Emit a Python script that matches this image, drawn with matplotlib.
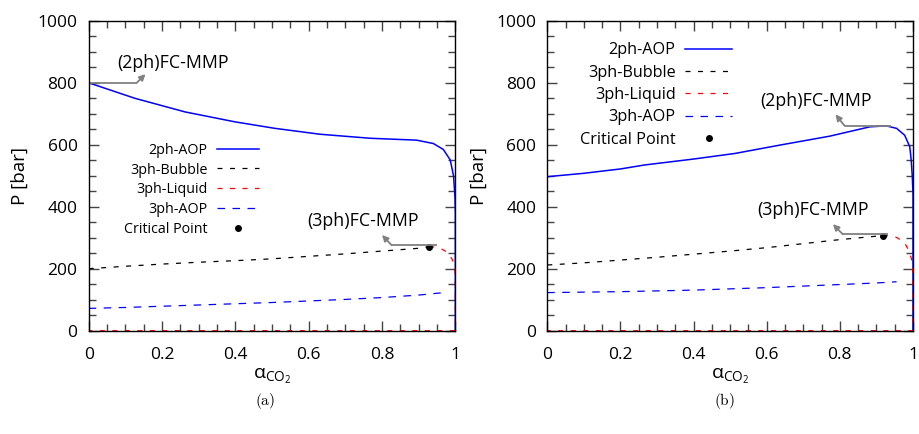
import matplotlib
matplotlib.use("Agg")
import matplotlib.pyplot as plt
from matplotlib.ticker import MultipleLocator

plt.rcParams['font.family'] = ['Open Sans', 'DejaVu Sans']

# ---- panel (a) ----
a_2ph_x = [0, 0.126, 0.263, 0.399, 0.508, 0.631, 0.768, 0.894, 0.94, 0.967, 0.986, 0.995, 0.999, 1.0, 1.0]
a_2ph_p = [800, 750, 706, 674, 653, 634, 621, 615, 604, 585, 551, 500, 430, 380, 0]
a_bub_x = [0, 0.1, 0.2, 0.3, 0.4, 0.5, 0.6, 0.7, 0.8, 0.9, 0.929]
a_bub_p = [200, 208, 215, 221, 226, 232, 240, 248, 257, 266, 271]
a_liq_x = [0.929, 0.945, 0.958, 0.97, 0.98, 0.99, 0.996, 0.999, 1.0, 1.0, 0.0]
a_liq_p = [271, 270, 266, 259, 249, 233, 218, 200, 150, 0, 0]
a_aop_x = [0, 0.1, 0.2, 0.3, 0.4, 0.5, 0.6, 0.7, 0.8, 0.9, 0.96]
a_aop_p = [72, 75, 79, 83, 87, 91, 96, 101, 107, 115, 122]
a_crit = (0.929, 271)

# ---- panel (b) ----
b_2ph_x = [0, 0.1, 0.2, 0.267, 0.4, 0.513, 0.636, 0.773, 0.882, 0.927, 0.955, 0.977, 0.991, 0.995, 0.998, 1.0, 1.0]
b_2ph_p = [497, 508, 522, 535, 554, 572, 599, 628, 658, 661, 653, 631, 594, 551, 497, 440, 0]
b_bub_x = [0, 0.1, 0.2, 0.3, 0.4, 0.5, 0.6, 0.7, 0.8, 0.9, 0.918]
b_bub_p = [212, 219, 228, 237, 247, 257, 268, 281, 294, 305, 307]
b_liq_x = [0.918, 0.94, 0.955, 0.97, 0.98, 0.99, 0.996, 0.999, 1.0, 1.0, 0.0]
b_liq_p = [307, 306, 301, 290, 277, 255, 230, 200, 150, 0, 0]
b_aop_x = [0, 0.2, 0.4, 0.6, 0.8, 0.9, 0.955]
b_aop_p = [123, 126, 131, 139, 149, 154, 158]
b_crit = (0.918, 307)

fig = plt.figure(figsize=(9.19, 4.34), dpi=100)
ax1 = fig.add_axes([0.0965, 0.238, 0.399, 0.714])
ax2 = fig.add_axes([0.5955, 0.238, 0.398, 0.714])

panels = [
    (ax1, a_2ph_x, a_2ph_p, a_bub_x, a_bub_p, a_liq_x, a_liq_p, a_aop_x, a_aop_p, a_crit),
    (ax2, b_2ph_x, b_2ph_p, b_bub_x, b_bub_p, b_liq_x, b_liq_p, b_aop_x, b_aop_p, b_crit),
]

for ax, x1, p1, x2, p2, x3, p3, x4, p4, cp in panels:
    ax.plot(x1, p1, color='#0000ff', lw=1.1, label='2ph-AOP')
    ax.plot(x2, p2, color='black', lw=0.9, dashes=(4, 6), label='3ph-Bubble')
    ax.plot(x3, p3, color='#ff0000', lw=0.9, dashes=(4, 6), label='3ph-Liquid')
    ax.plot(x4, p4, color='#0000ff', lw=0.9, dashes=(6, 6), label='3ph-AOP')
    ax.plot([cp[0]], [cp[1]], 'o', color='black', ms=4, ls='none', label='Critical Point')
    ax.set_xlim(0, 1)
    ax.set_ylim(0, 1000)
    ax.xaxis.set_major_locator(MultipleLocator(0.2))
    ax.xaxis.set_minor_locator(MultipleLocator(0.05))
    ax.yaxis.set_major_locator(MultipleLocator(200))
    ax.yaxis.set_minor_locator(MultipleLocator(50))
    ax.xaxis.set_major_formatter(plt.FuncFormatter(lambda v, pos: '%g' % round(v, 2)))
    ax.tick_params(which='both', direction='in', top=True, right=True, color='#444444',
                   width=1.0, labelsize=12.5)
    ax.tick_params(which='major', length=7.5, pad=8)
    ax.tick_params(axis='x', which='major', pad=12)
    ax.tick_params(which='minor', length=5)
    for s in ax.spines.values():
        s.set_linewidth(1.0)
    ax.set_xlabel(r'$\mathregular{\alpha_{CO_2}}$', fontsize=14, labelpad=2.5)
    ax.set_ylabel('P [bar]', fontsize=13.5, labelpad=6)

# legends
leg1 = ax1.legend(loc='upper left', bbox_to_anchor=(0.077, 0.63), frameon=False,
                  markerfirst=False, fontsize=10.3, handlelength=2.94, handletextpad=0.63,
                  labelspacing=0.34, borderpad=0, numpoints=1)
leg2 = ax2.legend(loc='upper left', bbox_to_anchor=(0.067, 0.957), frameon=False,
                  markerfirst=False, fontsize=11.7, handlelength=2.9, handletextpad=0.6,
                  labelspacing=0.39, borderpad=0, numpoints=1)

# annotations: (text position, start point, elbow point, arrow tip)
arrow_kw = dict(arrowstyle='-|>', color='#808080', lw=1.3, mutation_scale=9,
                shrinkA=0, shrinkB=0)
notes = [
    (ax1, '(2ph)FC-MMP', (0.077, 865), (0.0, 800), (0.131, 800), (0.155, 828)),
    (ax1, '(3ph)FC-MMP', (0.595, 354), (0.949, 276), (0.826, 276), (0.80, 309)),
    (ax2, '(2ph)FC-MMP', (0.581, 741), (0.941, 661), (0.813, 661), (0.788, 698)),
    (ax2, '(3ph)FC-MMP', (0.575, 389), (0.932, 311), (0.808, 311), (0.781, 344)),
]
for ax, txt, tpos, start, elbow, tip in notes:
    ax.plot([start[0], elbow[0]], [start[1], elbow[1]], color='#808080', lw=1.3,
            solid_capstyle='butt')
    ax.annotate('', xy=tip, xytext=elbow, arrowprops=arrow_kw)
    ax.text(tpos[0], tpos[1], txt, fontsize=12.8, va='center', ha='left')

fig.text(0.288, 0.076, r'$\mathrm{(a)}$', math_fontfamily='cm', fontsize=11, ha='center', va='center')
fig.text(0.788, 0.076, r'$\mathrm{(b)}$', math_fontfamily='cm', fontsize=11, ha='center', va='center')

fig.savefig('out.png', dpi=100)
